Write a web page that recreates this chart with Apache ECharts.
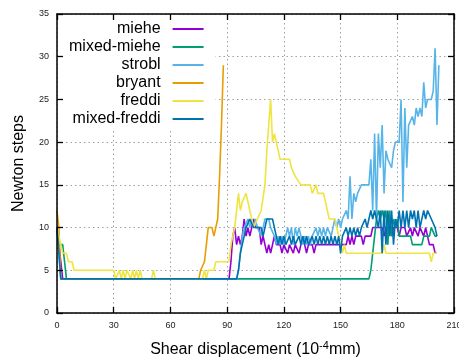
<!DOCTYPE html>
<html>
<head>
<meta charset="utf-8">
<script src="https://cdn.jsdelivr.net/npm/echarts@6/dist/echarts.min.js"></script>
<style>html,body{margin:0;padding:0;background:#fff}#c{width:459px;height:360px}</style>
</head>
<body>
<div id="c"></div>
<script>
const seriesNames = ['miehe', 'mixed-miehe', 'strobl', 'bryant', 'freddi', 'mixed-freddi'];
const seriesColors = ['#9400d3', '#009e73', '#56b4e9', '#e69f00', '#f0e442', '#0072b2'];
const xTicks = [0, 30, 60, 90, 120, 150, 180, 210];
const yTicks = [0, 5, 10, 15, 20, 25, 30, 35];

const miehe_x = [0,1,3,91,92,93,94,95,96,97,98,99,100,101,102,103,104,105,107,108,109,110,111,112,113,114,115,116,118,119,120,121,122,123,124,125,126,127,128,129,130,131,132,133,135,136,137,153,154,155,156,157,158,161,162,163,166,167,172,173,174,176,177,178,180,181,182,184,185,186,187,188,189,190,191,192,193,194,195,196,197,199,200,201];
const miehe_y = [10,8,4,4,6,9,10,8,9,8,9,11,9,10,9,10,11,10,10,8,9,9,7,8,7,7,9,8,8,7,8,8,7,8,8,7,8,8,7,8,9,8,7,8,8,7,8,8,9,8,9,8,9,9,8,9,9,10,10,9,10,10,9,10,10,9,10,10,9,9,10,9,10,10,9,10,10,9,10,9,8,8,7,7];

const mixedMiehe_x = [0,1,3,5,165,166,167,168,169,170,171,172,173,174,175,176,177,178,179,180,181,182,187,188,193,194,197,198,199,200,201];
const mixedMiehe_y = [10,8,8,4,4,5,7,9,11,12,11,12,11,12,8,12,9,11,10,11,9,9,9,8,8,9,9,10,10,9,9];

const strobl_x = [0,2,95,96,97,98,99,100,101,102,103,104,105,106,107,108,109,110,111,112,113,114,115,116,117,118,119,120,121,122,123,124,125,126,127,128,129,130,131,132,133,134,135,136,137,138,139,140,141,142,143,144,145,146,147,148,149,150,151,152,153,154,155,156,157,158,159,160,161,162,163,164,165,166,167,168,169,170,171,172,173,174,175,176,177,178,179,180,181,182,183,184,185,186,187,188,189,190,191,192,193,194,195,196,197,198,199,200,201,202];
const strobl_y = [10,4,4,5,7,9,10,10,11,10,11,10,11,10,10,9,10,11,11,11,10,10,9,8,9,8,9,8,9,10,9,10,8,10,9,10,9,8,9,8,9,8,9,9,10,9,10,9,10,9,10,10,9,10,11,10,11,10,11,11,12,11,16,11,14,13,14,14,15,15,15,15,15,18,12,21,11,21,17,22,14,19,18,18,17,19,20,20,20,25,13,24,17,22,22,23,22,24,23,24,23,27,24,25,25,25,26,31,22,29];

const bryant_x = [0,1,2,75,76,77,78,79,80,81,82,83,84,85,86,87,88];
const bryant_y = [12,10,4,4,5,5,6,8,10,10,10,9,10,11,16,22,29];

const freddi_x = [0,1,2,3,5,6,8,9,30,31,33,34,35,36,37,38,39,40,41,42,43,44,45,50,51,52,77,78,79,80,83,84,91,92,94,96,97,98,99,100,101,102,103,104,105,106,108,110,111,112,113,114,115,116,117,118,123,124,126,127,129,134,135,137,138,141,142,143,144,147,148,149,150,151,152,153,172,173,174,197,198,199,201];
const freddi_y = [10,9,8,7,7,6,6,5,5,4,5,4,5,4,5,5,4,5,4,5,4,5,4,4,5,4,4,5,4,5,5,6,6,8,10,14,12,13,13,14,14,12,11,10,10,11,12,15,19,22,25,20,21,20,19,18,18,17,16,16,15,15,14,15,14,14,13,12,11,11,10,9,8,7,8,7,7,8,7,7,6,7,7];

const mixedFreddi_x = [0,2,95,96,97,98,99,100,102,104,106,108,109,110,111,114,115,116,117,118,119,120,121,122,123,124,125,126,127,128,129,130,131,132,133,134,135,136,137,138,139,140,141,142,143,144,145,146,147,148,149,150,151,152,153,154,155,156,157,158,159,160,161,162,163,164,165,166,167,168,169,170,171,172,173,174,175,176,177,178,179,180,181,182,183,184,185,186,187,188,189,190,191,192,193,194,195,196,197,198,199,200,201];
const mixedFreddi_y = [10,4,4,5,7,8,9,10,11,10,10,10,9,10,11,11,10,9,8,9,8,9,8,8,9,8,9,8,8,9,8,9,8,9,8,8,9,8,9,8,9,8,9,8,9,8,9,8,9,8,9,7,9,9,10,9,10,9,10,9,10,9,10,10,11,10,11,12,11,12,11,10,12,7,12,8,12,9,12,8,11,10,12,10,12,10,12,10,12,11,12,10,12,10,11,12,11,12,12,11,11,10,9];

const seriesX = [miehe_x, mixedMiehe_x, strobl_x, bryant_x, freddi_x, mixedFreddi_x];
const seriesY = [miehe_y, mixedMiehe_y, strobl_y, bryant_y, freddi_y, mixedFreddi_y];

const FONT = "'Liberation Sans', Arial, sans-serif";
const chart = echarts.init(document.getElementById('c'), null, {renderer: 'canvas'});

const tickStyle = {show: true, inside: true, length: 6, lineStyle: {color: '#000', width: 1.3}};
const lineStyleAxis = {show: true, onZero: false, lineStyle: {color: '#000', width: 1.5}};
const gridLine = {show: true, lineStyle: {color: '#a0a0a0', width: 1, type: [1.5, 3]}};

const xBase = {type: 'value', min: xTicks[0], max: xTicks[xTicks.length - 1], interval: xTicks[1] - xTicks[0]};
const yBase = {type: 'value', min: yTicks[0], max: yTicks[yTicks.length - 1], interval: yTicks[1] - yTicks[0]};

const option = {
  animation: false,
  backgroundColor: '#fff',
  grid: {left: 57, right: 5, top: 14, bottom: 47, containLabel: false, outerBoundsMode: 'none'},
  legend: {
    orient: 'vertical', left: 58, top: 15, align: 'right', z: 3,
    icon: 'rect', itemWidth: 31, itemHeight: 2, itemGap: 2,
    padding: [6, 12, 2, 11],
    backgroundColor: '#fff',
    selectedMode: false,
    textStyle: {fontSize: 16, lineHeight: 16, color: '#000', fontFamily: FONT, padding: [0, 7, 0, 0]},
    data: seriesNames
  },
  xAxis: [
    Object.assign({}, xBase, {
      position: 'bottom', z: 5,
      axisLine: lineStyleAxis, axisTick: tickStyle, splitLine: {show: false},
      axisLabel: {fontSize: 9, color: '#222', margin: 8, fontFamily: FONT},
      name: '{a|Shear displacement (10}{s|-4}{a|mm)}',
      nameLocation: 'middle', nameGap: 27,
      nameTextStyle: {rich: {
        a: {fontSize: 16, fontFamily: FONT, color: '#000', lineHeight: 18, verticalAlign: 'bottom'},
        s: {fontSize: 11, fontFamily: FONT, color: '#000', lineHeight: 11, verticalAlign: 'top'}
      }}
    }),
    Object.assign({}, xBase, {
      position: 'top', z: 5,
      axisLine: lineStyleAxis, axisTick: tickStyle, splitLine: {show: false}, axisLabel: {show: false}
    }),
    Object.assign({}, xBase, {
      position: 'bottom', z: 0,
      axisLine: {show: false}, axisTick: {show: false}, axisLabel: {show: false}, splitLine: gridLine
    })
  ],
  yAxis: [
    Object.assign({}, yBase, {
      position: 'left', z: 5,
      axisLine: lineStyleAxis, axisTick: tickStyle, splitLine: {show: false},
      axisLabel: {fontSize: 9, color: '#222', margin: 8, fontFamily: FONT},
      name: 'Newton steps', nameLocation: 'middle', nameGap: 30,
      nameTextStyle: {fontSize: 16, fontFamily: FONT, color: '#000'}
    }),
    Object.assign({}, yBase, {
      position: 'right', z: 5,
      axisLine: lineStyleAxis, axisTick: tickStyle, splitLine: {show: false}, axisLabel: {show: false}
    }),
    Object.assign({}, yBase, {
      position: 'left', z: 0,
      axisLine: {show: false}, axisTick: {show: false}, axisLabel: {show: false}, splitLine: gridLine
    })
  ],
  series: seriesNames.map((name, i) => ({
    name: name,
    type: 'line',
    xAxisIndex: 0, yAxisIndex: 0,
    showSymbol: false, symbol: 'none',
    color: seriesColors[i],
    lineStyle: {color: seriesColors[i], width: 1.6},
    itemStyle: {color: seriesColors[i]},
    emphasis: {disabled: true},
    data: seriesX[i].map((x, j) => [x, seriesY[i][j]])
  }))
};
chart.setOption(option);
</script>
</body>
</html>
